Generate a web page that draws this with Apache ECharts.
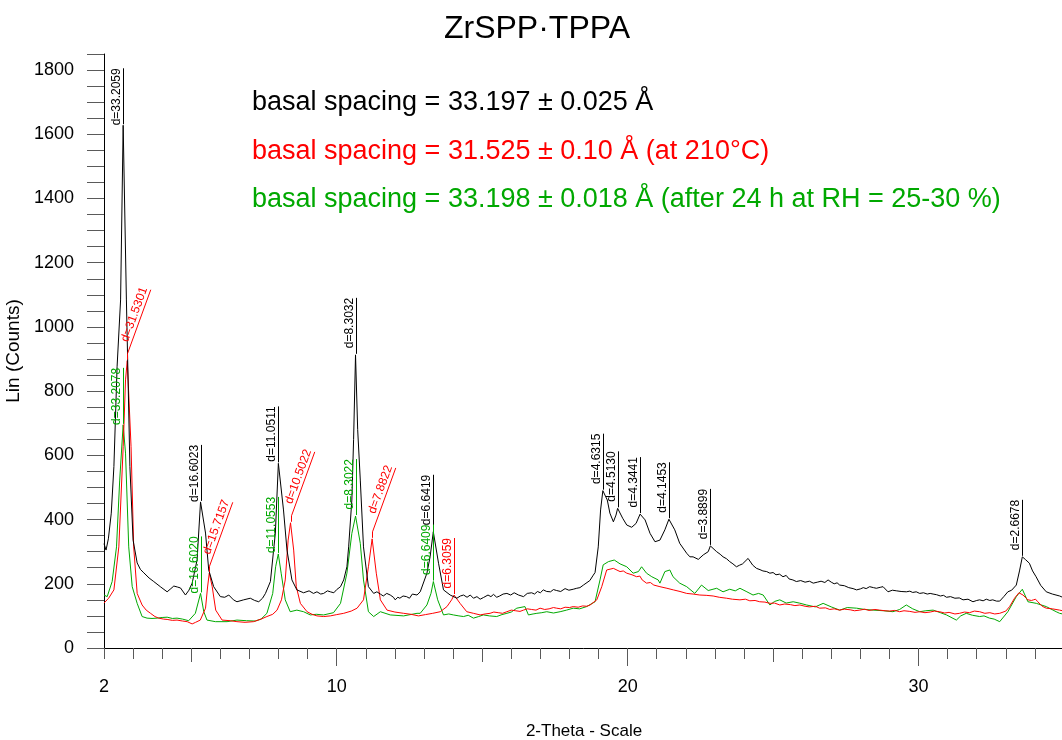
<!DOCTYPE html>
<html>
<head>
<meta charset="utf-8">
<script src="https://cdn.jsdelivr.net/npm/echarts@6/dist/echarts.min.js"></script>
<style>
html, body { margin: 0; padding: 0; background: #fff; }
#chart { width: 1062px; height: 740px; }
</style>
</head>
<body>
<div id="chart"></div>
<script>
// XRD patterns of ZrSPP·TPPA: [2-theta (deg), intensity (counts)]
const asPrepared = [
  [2.00,325],[2.07,305],[2.15,340],[2.25,420],[2.34,565],[2.45,876],[2.57,1084],[2.6585,1628],[2.77,1084],[2.89,565],
  [3.00,336],[3.14,265],[3.25,245],[3.37,234],[3.55,218],[3.71,207],[3.95,190],[4.17,175],[4.30,185],[4.40,193],
  [4.52,190],[4.63,187],[4.80,165],[4.92,180],[5.03,202],[5.20,274],[5.3186,455],[5.49,358],[5.60,243],[5.77,191],
  [6.00,160],[6.15,158],[6.29,165],[6.45,150],[6.57,144],[6.80,150],[7.03,155],[7.18,148],[7.32,144],[7.45,155],
  [7.55,170],[7.72,207],[7.89,358],[7.994,575],[8.17,430],[8.29,305],[8.46,212],[8.63,181],[8.86,172],[9.05,178],
  [9.20,170],[9.32,175],[9.45,168],[9.55,170],[9.68,178],[9.78,175],[9.90,172],[10.00,182],[10.13,191],[10.24,212],[10.35,253],[10.41,315],[10.52,461],[10.58,650],
  [10.646,913],[10.72,680],[10.81,523],[10.92,315],[11.09,191],[11.27,170],[11.38,175],[11.50,168],[11.60,162],[11.72,170],[11.84,165],[11.95,158],[12.01,150],
  [12.10,158],[12.17,155],[12.28,162],[12.40,160],[12.50,155],[12.60,168],[12.76,165],[12.87,175],[13.10,233],[13.21,284],[13.320,362],[13.50,264],[13.67,181],
  [13.90,165],[14.13,155],[14.25,162],[14.36,165],[14.48,158],[14.59,165],[14.70,155],[14.82,160],[14.93,152],[15.04,157],[15.20,165],[15.30,160],[15.39,167],[15.50,158],[15.60,162],[15.72,168],[15.85,170],
  [15.98,165],[16.10,172],[16.25,165],[16.42,160],[16.55,170],[16.70,172],[16.80,168],[16.90,176],[17.00,172],[17.10,181],[17.22,176],[17.35,175],[17.45,182],[17.56,179],[17.70,176],[17.85,185],[17.98,180],[18.13,183],[18.25,186],[18.36,188],
  [18.48,196],[18.70,210],[18.82,227],[18.88,235],[18.99,315],[19.07,430],[19.148,490],[19.30,461],[19.39,420],[19.51,393],
  [19.60,414],[19.656,435],[19.83,404],[19.97,383],[20.14,376],[20.29,388],[20.428,417],[20.60,399],[20.77,357],[20.94,331],
  [21.11,336],[21.28,368],[21.419,401],[21.62,368],[21.79,326],[22.03,295],[22.14,284],[22.25,284],[22.43,276],[22.60,290],
  [22.77,300],[22.844,318],[23.06,300],[23.18,292],[23.28,284],[23.40,278],[23.51,269],[23.62,262],[23.74,253],[23.85,258],[23.95,262],[24.14,279],[24.30,258],[24.43,248],[24.55,244],[24.65,240],
  [24.78,238],[24.89,233],[25.00,235],[25.10,228],[25.22,230],[25.34,222],[25.45,226],[25.55,215],[25.68,212],[25.80,207],[25.95,210],[26.10,205],[26.25,208],[26.38,202],[26.52,205],[26.65,208],[26.78,204],[26.89,212],[27.00,205],[27.10,200],
  [27.20,203],[27.29,196],[27.45,194],[27.60,188],[27.75,185],[27.87,181],[28.00,184],[28.10,188],[28.20,185],[28.32,191],[28.45,188],[28.55,186],[28.68,189],[28.78,191],[28.95,175],[29.10,180],[29.25,178],[29.40,176],[29.58,175],
  [29.70,177],[29.80,173],[29.92,175],[30.04,170],[30.17,172],[30.30,168],[30.40,170],[30.50,168],[30.62,166],[30.75,162],[30.86,164],[30.96,158],[31.10,160],[31.25,155],[31.40,156],[31.53,150],[31.70,152],[31.87,144],[32.00,148],[32.10,150],
  [32.22,147],[32.33,152],[32.45,148],[32.55,150],[32.68,146],[32.79,146],[32.93,160],[33.07,175],[33.20,180],[33.36,196],[33.47,240],[33.568,284],[33.68,275],[33.81,264],[33.92,240],[34.04,222],[34.20,195],[34.39,175],
  [34.60,168],[34.85,162],[34.95,158]
];
const heated210 = [
  [2.00,140],[2.16,155],[2.34,181],[2.51,315],[2.66,627],[2.74,835],[2.7998,895],[2.93,627],[3.02,315],[3.14,170],
  [3.31,134],[3.45,118],[3.60,108],[3.75,98],[3.88,93],[4.05,90],[4.17,89],[4.35,86],[4.51,87],[4.70,84],
  [4.86,82],[5.03,75],[5.15,80],[5.31,87],[5.49,124],[5.56,190],[5.619,233],[5.72,191],[5.84,118],[6.06,87],
  [6.34,85],[6.57,82],[6.85,80],[7.14,82],[7.40,90],[7.60,98],[7.80,105],[7.95,118],[8.10,150],[8.23,212],
  [8.33,336],[8.412,390],[8.52,305],[8.61,191],[8.75,139],[8.98,113],[9.15,105],[9.32,100],[9.55,98],[9.78,100],
  [10.00,104],[10.24,108],[10.50,115],[10.70,124],[10.92,150],[11.09,253],[11.217,340],[11.36,233],[11.50,150],[11.73,118],
  [12.00,112],[12.30,108],[12.55,105],[12.81,100],[13.05,104],[13.30,108],[13.56,113],[13.79,129],[13.95,150],[14.033,165],
  [14.24,139],[14.47,113],[14.70,108],[14.93,103],[15.10,106],[15.27,108],[15.40,112],[15.55,110],[15.70,108],[15.85,113],[16.00,118],[16.15,116],[16.30,114],[16.42,118],[16.55,122],[16.70,120],
  [16.85,118],[16.99,124],[17.15,120],[17.30,122],[17.45,126],[17.56,124],[17.70,122],[17.85,127],[18.00,126],[18.13,129],[18.30,127],[18.45,131],[18.60,130],[18.71,134],[18.94,150],[19.11,191],[19.28,243],
  [19.51,248],[19.74,238],[19.85,240],[19.97,233],[20.15,228],[20.31,222],[20.42,224],[20.50,212],[20.65,202],[20.78,204],[20.90,196],[21.11,191],[21.35,186],
  [21.57,181],[21.80,176],[22.03,170],[22.25,168],[22.48,165],[22.70,164],[22.94,162],[23.15,158],[23.40,155],[23.60,152],
  [23.86,150],[24.05,152],[24.20,147],[24.38,148],[24.54,144],[24.72,143],[24.90,139],[25.05,140],[25.23,134],[25.40,137],[25.60,135],[25.75,132],[25.92,134],[26.10,130],[26.25,128],[26.45,130],[26.60,124],[26.80,125],[26.95,120],
  [27.10,122],[27.29,118],[27.45,121],[27.65,119],[27.80,116],[27.98,118],[28.15,121],[28.30,117],[28.50,120],[28.66,118],[28.85,116],[29.00,115],[29.18,117],[29.35,113],[29.50,116],[29.70,114],[29.88,111],[30.04,113],[30.22,110],[30.40,112],
  [30.55,115],[30.72,113],[30.90,109],[31.05,111],[31.25,106],[31.41,108],[31.58,112],[31.75,110],[31.92,115],[32.10,113],[32.28,108],[32.45,110],[32.62,106],[32.79,108],[33.00,115],[33.13,129],[33.30,155],
  [33.45,172],[33.59,165],[33.76,150],[33.88,148],[33.95,150],[34.02,152],[34.10,144],[34.25,130],[34.39,124],[34.60,122],[34.85,118],[34.95,116]
];
const rehydrated = [
  [2.00,165],[2.11,160],[2.28,207],[2.43,315],[2.54,523],[2.658,695],[2.74,607],[2.85,315],[2.97,191],[3.14,139],
  [3.31,98],[3.48,93],[3.65,92],[3.83,93],[4.00,95],[4.17,96],[4.35,92],[4.51,93],[4.70,90],[4.91,85],
  [5.14,108],[5.319,170],[5.43,113],[5.54,87],[5.83,82],[6.23,82],[6.57,87],[6.90,85],[7.20,84],[7.40,90],
  [7.60,108],[7.80,170],[7.90,253],[7.991,293],[8.09,233],[8.23,150],[8.40,113],[8.63,118],[8.86,113],[9.09,103],
  [9.30,105],[9.55,103],[9.89,110],[10.13,139],[10.35,233],[10.52,357],[10.647,411],[10.81,326],[10.92,212],[11.09,113],
  [11.27,98],[11.50,113],[11.84,103],[12.30,100],[12.76,108],[12.87,108],[13.10,134],[13.24,170],[13.322,207],[13.47,150],
  [13.67,103],[13.85,106],[14.01,103],[14.20,100],[14.36,98],[14.52,102],[14.70,93],[14.88,98],[15.04,103],[15.25,100],[15.50,98],[15.68,104],[15.85,108],[16.00,112],[16.19,124],
  [16.47,129],[16.59,103],[16.75,106],[16.88,108],[17.05,110],[17.22,113],[17.45,109],[17.68,113],[17.90,118],[18.13,124],[18.35,122],[18.59,129],[18.88,144],[19.05,212],[19.16,259],
  [19.34,269],[19.54,274],[19.74,262],[19.97,253],[20.19,233],[20.37,238],[20.48,253],[20.65,233],[20.83,222],[21.05,212],
  [21.11,202],[21.28,238],[21.45,243],[21.56,222],[21.79,202],[22.03,191],[22.31,170],[22.54,196],[22.77,179],[23.06,186],
  [23.28,175],[23.51,183],[23.70,178],[23.86,186],[24.10,175],[24.31,165],[24.50,170],[24.66,165],[24.89,134],[25.05,145],[25.23,150],[25.45,140],[25.69,144],[25.90,140],[26.15,134],
  [26.45,128],[26.72,139],[27.00,128],[27.29,118],[27.55,126],[27.87,124],[28.15,120],[28.44,118],[28.80,116],[29.12,113],[29.35,120],[29.58,134],[29.80,122],[30.04,113],[30.25,116],[30.50,118],[30.75,110],[30.96,103],[31.15,94],[31.30,87],
  [31.45,100],[31.64,108],[31.85,102],[32.10,98],[32.25,100],[32.44,93],[32.60,90],[32.79,82],[33.07,113],[33.36,160],[33.568,183],[33.76,144],[34.05,139],[34.39,129],
  [34.73,113],[34.85,108],[34.95,106]
];

// d-spacings (Å) marked on each pattern
const asPreparedPeaks = ['33.2059','16.6023','11.0511','8.3032','6.6419','4.6315','4.5130','4.3441','4.1453','3.8899','2.6678'];
const heated210Peaks = ['31.5301','15.7157','10.5022','7.8822','6.3059'];
const rehydratedPeaks = ['33.2078','16.6020','11.0553','8.3022','6.6409'];
// peak markers of the heated pattern drawn with slanted leaders
const slantedMarkers = ['31.5301','15.7157','10.5022','7.8822'];

const xTickLabels = [2, 10, 20, 30];
const xMidTicks = [5, 15, 25];
const yTickLabels = [0, 200, 400, 600, 800, 1000, 1200, 1400, 1600, 1800];

const chartTitle = 'ZrSPP·TPPA';
const notes = [
  'basal spacing = 33.197 ± 0.025 Å',
  'basal spacing = 31.525 ± 0.10 Å (at 210°C)',
  'basal spacing = 33.198 ± 0.018 Å (after 24 h at RH = 25-30 %)'
];

const FONT = '"Liberation Sans", Arial, sans-serif';
const COLORS = ['#000000', '#ff0000', '#00a800'];
const LAMBDA = 1.5406; // Cu K-alpha1

function braggTwoTheta(d) {
  return 2 * Math.asin(LAMBDA / (2 * d)) * 180 / Math.PI;
}
function nearestPoint(series, x) {
  let best = series[0];
  for (const p of series) if (Math.abs(p[0] - x) < Math.abs(best[0] - x)) best = p;
  return best;
}

// marker items anchored on the pattern's own peak points
const markers = [];
[[asPrepared, asPreparedPeaks, 0], [heated210, heated210Peaks, 1], [rehydrated, rehydratedPeaks, 2]]
  .forEach(([series, peaks, ci]) => {
    peaks.forEach(d => {
      const p = nearestPoint(series, braggTwoTheta(parseFloat(d)));
      markers.push({ x: p[0], y: p[1], text: 'd=' + d, color: COLORS[ci], slanted: slantedMarkers.includes(d) && ci === 1 });
    });
  });

const minorX = [];
for (let v = 2; v <= 34; v++) minorX.push(v);
const minorY = [];
for (let v = 0; v <= 1850; v += 50) minorY.push(v);

const chart = echarts.init(document.getElementById('chart'), null, { renderer: 'canvas' });

const LABEL_FONT = '12px "Liberation Sans Narrow", "Liberation Sans", Arial, sans-serif';
const LEADER = 56;      // vertical leader length (px)
const SLANT_RISE = 6;   // short vertical stub before slanted leader
const SLANT_LEN = 68;   // slanted leader length (px)
const SLANT_ANGLE = 70 * Math.PI / 180;

function renderMarker(params, api) {
  const m = markers[params.dataIndex];
  const pt = api.coord([api.value(0), api.value(1)]);
  const px = Math.round(pt[0]) + 0.5, py = pt[1] - 1;
  const children = [];
  if (!m.slanted) {
    const top = py - LEADER;
    children.push({ type: 'line', shape: { x1: px, y1: py, x2: px, y2: top }, style: { stroke: m.color, lineWidth: 1 } });
    children.push({ type: 'text', x: px - 1, y: top, rotation: Math.PI / 2,
      style: { text: m.text, fill: m.color, font: LABEL_FONT, align: 'right', verticalAlign: 'bottom' } });
  } else {
    const y1 = py - SLANT_RISE;
    const ex = px + SLANT_LEN * Math.cos(SLANT_ANGLE);
    const ey = y1 - SLANT_LEN * Math.sin(SLANT_ANGLE);
    children.push({ type: 'polyline', shape: { points: [[px, py], [px, y1], [ex, ey]] }, style: { stroke: m.color, lineWidth: 1, fill: null } });
    children.push({ type: 'text', x: ex - 1, y: ey, rotation: SLANT_ANGLE,
      style: { text: m.text, fill: m.color, font: LABEL_FONT, align: 'right', verticalAlign: 'bottom' } });
  }
  return { type: 'group', children };
}

const tickColor = '#5a5a5a';
const plainNumber = v => String(v);
const option = {
  animation: false,
  backgroundColor: '#ffffff',
  title: {
    text: chartTitle, left: 537, top: 13, textAlign: 'center', padding: 0,
    textStyle: { fontFamily: FONT, fontSize: 32, fontWeight: 'normal', color: '#000' }
  },
  grid: { left: 104, right: -2, top: 54, bottom: 92, containLabel: false, outerBoundsMode: 'none' },
  xAxis: [
    {
      type: 'value', min: 2, max: 35, splitLine: { show: false },
      axisLine: { show: true, onZero: false, lineStyle: { color: '#000', width: 1 } },
      axisTick: { show: true, customValues: minorX, length: 11, lineStyle: { color: tickColor } },
      axisLabel: { customValues: xTickLabels, formatter: plainNumber, margin: 30, fontSize: 18, fontFamily: FONT, color: '#000' },
      name: '2-Theta - Scale', nameLocation: 'middle', nameGap: 75,
      nameTextStyle: { fontSize: 17, fontFamily: FONT, color: '#000' }
    },
    {
      type: 'value', min: 2, max: 35, position: 'bottom', splitLine: { show: false },
      axisLine: { show: false }, axisLabel: { show: false },
      axisTick: { show: true, customValues: xMidTicks, length: 14, lineStyle: { color: tickColor } }
    },
    {
      type: 'value', min: 2, max: 35, position: 'bottom', splitLine: { show: false },
      axisLine: { show: false }, axisLabel: { show: false },
      axisTick: { show: true, customValues: xTickLabels.filter(v => v % 10 === 0), length: 18, lineStyle: { color: tickColor } }
    }
  ],
  yAxis: {
    type: 'value', min: 0, max: 1850, splitLine: { show: false },
    axisLine: { show: true, lineStyle: { color: '#000', width: 1 } },
    axisTick: { show: true, customValues: minorY, length: 17, lineStyle: { color: tickColor } },
    axisLabel: { customValues: yTickLabels, formatter: plainNumber, margin: 30, fontSize: 18, fontFamily: FONT, color: '#000' },
    name: 'Lin (Counts)', nameLocation: 'middle', nameGap: 72,
    nameTextStyle: { fontSize: 19, fontFamily: FONT, color: '#000' }
  },
  graphic: notes.map((t, i) => ({
    type: 'text', x: 252, y: 103 + i * 48.5,
    style: { text: t, fill: COLORS[i], font: '27px ' + FONT, verticalAlign: 'middle' }
  })),
  series: [
    { name: 'rehydrated', type: 'line', data: rehydrated, showSymbol: false, lineStyle: { color: COLORS[2], width: 1 }, z: 2 },
    { name: '210 °C', type: 'line', data: heated210, showSymbol: false, lineStyle: { color: COLORS[1], width: 1 }, z: 3 },
    { name: 'as prepared', type: 'line', data: asPrepared, showSymbol: false, lineStyle: { color: COLORS[0], width: 1 }, z: 4 },
    {
      type: 'custom', coordinateSystem: 'cartesian2d', clip: false, z: 5,
      data: markers.map(m => [m.x, m.y]),
      renderItem: renderMarker
    }
  ]
};
chart.setOption(option);
</script>
</body>
</html>
